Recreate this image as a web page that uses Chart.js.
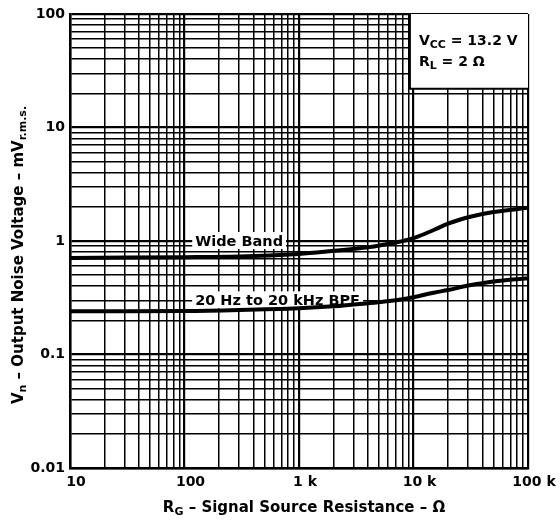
<!DOCTYPE html>
<html>
<head>
<meta charset="utf-8">
<script src="https://cdn.jsdelivr.net/npm/chart.js@4.4.1/dist/chart.umd.min.js"></script>
<style>
html, body { margin: 0; padding: 0; background: #fff; }
#wrap { width: 560px; height: 525px; }
</style>
</head>
<body>
<div id="wrap"><canvas id="noiseChart"></canvas></div>
<script>
// R_G (ohm) and output noise (mV rms)
const resistance = [10, 100, 300, 1000, 2000, 4000, 7000, 10000, 15000, 20000, 30000, 50000, 100000];
const wideBand   = [0.71, 0.72, 0.73, 0.77, 0.82, 0.88, 0.97, 1.06, 1.25, 1.42, 1.62, 1.80, 1.96];
const bpf        = [0.24, 0.242, 0.247, 0.256, 0.266, 0.283, 0.30, 0.32, 0.35, 0.37, 0.405, 0.44, 0.47];

const xMajors = [10, 100, 1000, 10000, 100000];
const xLabels = ['10', '100', '1 k', '10 k', '100 k'];
const yMajors = [0.01, 0.1, 1, 10, 100];
const yLabels = ['0.01', '0.1', '1', '10', '100'];

// curve labels: [text, x, y]
const curveLabels = [
    ['Wide Band', 300, 1],
    ['20 Hz to 20 kHz BPF', 650, 0.3]
];
// condition box corner (lower-left), in data units
const boxCorner = [9300, 22];

const FONT = '"DejaVu Sans", "Liberation Sans", sans-serif';

function isMajor(v) {
    const l = Math.log10(v);
    return Math.abs(l - Math.round(l)) < 1e-6;
}
function labelFor(v, majors, labels) {
    for (var i = 0; i < majors.length; i++) {
        if (Math.abs(Math.log10(v) - Math.log10(majors[i])) < 1e-6) return labels[i];
    }
    return '';
}
function gridTicks(majors) {
    const t = [];
    for (var i = 0; i < majors.length; i++) {
        t.push({ value: majors[i] });
        if (i < majors.length - 1) {
            for (var m = 2; m <= 9; m++) t.push({ value: majors[i] * m });
        }
    }
    return t;
}

// draws text with subscript parts: parts = [[text, isSub], ...]
function drawParts(ctx, parts, x, y, size, align) {
    const subSize = Math.round(size * 0.75);
    var total = 0;
    parts.forEach(p => {
        ctx.font = 'bold ' + (p[1] ? subSize : size) + 'px ' + FONT;
        total += ctx.measureText(p[0]).width;
    });
    var cx = align === 'center' ? x - total / 2 : x;
    ctx.textAlign = 'left';
    ctx.textBaseline = 'middle';
    parts.forEach(p => {
        ctx.font = 'bold ' + (p[1] ? subSize : size) + 'px ' + FONT;
        ctx.fillText(p[0], cx, p[1] ? y + size * 0.3 : y);
        cx += ctx.measureText(p[0]).width;
    });
}

const overlay = {
    id: 'overlay',
    beforeDatasetsDraw(chart) {
        const { ctx, scales: { x, y }, chartArea } = chart;
        ctx.save();
        // condition box
        const bx = x.getPixelForValue(boxCorner[0]);
        const by = y.getPixelForValue(boxCorner[1]);
        ctx.fillStyle = '#fff';
        ctx.fillRect(bx, chartArea.top, chartArea.right - bx, by - chartArea.top);
        ctx.strokeStyle = '#000';
        ctx.lineWidth = 2;
        ctx.beginPath();
        ctx.moveTo(bx, chartArea.top);
        ctx.lineTo(bx, by);
        ctx.lineTo(chartArea.right, by);
        ctx.stroke();
        ctx.fillStyle = '#000';
        drawParts(ctx, [['V', false], ['CC', true], [' = 13.2 V', false]], bx + 9, chartArea.top + 27, 14, 'left');
        drawParts(ctx, [['R', false], ['L', true], [' = 2 \u03A9', false]], bx + 9, chartArea.top + 48, 14, 'left');

        // curve labels with white backing
        ctx.font = 'bold 14.5px ' + FONT;
        ctx.textAlign = 'center';
        ctx.textBaseline = 'middle';
        curveLabels.forEach(l => {
            const px = x.getPixelForValue(l[1]);
            const py = y.getPixelForValue(l[2]);
            const w = ctx.measureText(l[0]).width;
            ctx.fillStyle = '#fff';
            ctx.fillRect(px - w / 2 - 3, py - 9, w + 6, 17);
            ctx.fillStyle = '#000';
            ctx.fillText(l[0], px, py + 1);
        });
        ctx.restore();
    },
    afterDraw(chart) {
        const { ctx } = chart;
        ctx.save();
        ctx.fillStyle = '#000';
        drawParts(ctx, [['R', false], ['G', true], [' \u2013 Signal Source Resistance \u2013 \u03A9', false]], 304, 508, 15, 'center');
        ctx.translate(19, 255);
        ctx.rotate(-Math.PI / 2);
        drawParts(ctx, [['V', false], ['n', true], [' \u2013 Output Noise Voltage \u2013 mV', false], ['r.m.s.', true]], 0, 0, 15, 'center');
        ctx.restore();
    }
};

function gridWidth(c) {
    return c.tick && isMajor(c.tick.value) ? 2.2 : 1.5;
}

new Chart(document.getElementById('noiseChart'), {
    type: 'line',
    data: {
        datasets: [
            {
                label: 'Wide Band',
                data: resistance.map((r, i) => ({ x: r, y: wideBand[i] })),
                borderColor: '#000',
                borderWidth: 4,
                pointRadius: 0,
                tension: 0.35
            }, {
                label: '20 Hz to 20 kHz BPF',
                data: resistance.map((r, i) => ({ x: r, y: bpf[i] })),
                borderColor: '#000',
                borderWidth: 4,
                pointRadius: 0,
                tension: 0.35
            }
        ]
    },
    options: {
        responsive: true,
        maintainAspectRatio: false,
        animation: false,
        devicePixelRatio: 1,
        layout: { padding: { top: 14, right: 32, left: 0, bottom: 0 } },
        plugins: {
            legend: { display: false },
            tooltip: { enabled: false }
        },
        scales: {
            x: {
                type: 'logarithmic',
                min: 10,
                max: 100000,
                afterBuildTicks: s => { s.ticks = gridTicks(xMajors); },
                afterFit: s => { s.height = 57; },
                grid: { color: '#000', lineWidth: gridWidth, drawTicks: false },
                border: { display: true, color: '#000', width: 2.5 },
                ticks: {
                    autoSkip: false,
                    maxRotation: 0,
                    padding: 6,
                    labelOffset: 6,
                    color: '#000',
                    font: { family: FONT, size: 14, weight: 'bold' },
                    callback: v => labelFor(v, xMajors, xLabels)
                }
            },
            y: {
                type: 'logarithmic',
                min: 0.01,
                max: 100,
                afterBuildTicks: s => { s.ticks = gridTicks(yMajors); },
                afterFit: s => { s.width = 70; },
                grid: { color: '#000', lineWidth: gridWidth, drawTicks: false },
                border: { display: true, color: '#000', width: 2.5 },
                ticks: {
                    autoSkip: false,
                    padding: 5,
                    color: '#000',
                    font: { family: FONT, size: 14, weight: 'bold' },
                    callback: v => labelFor(v, yMajors, yLabels)
                }
            }
        }
    },
    plugins: [overlay]
});
</script>
</body>
</html>
